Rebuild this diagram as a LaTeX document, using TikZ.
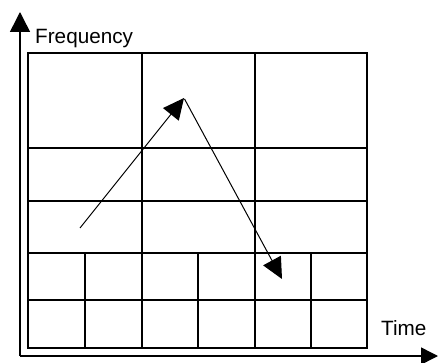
\documentclass[tikz,border=0pt]{standalone}
\usepackage{fontspec}
\setmainfont{Liberation Sans}
\usetikzlibrary{arrows.meta, positioning}

\begin{document}
\begin{tikzpicture}[x=1pt, y=-1pt,
    axis/.style={line width=1.5pt, -{Triangle[length=20pt, width=20pt]}},
    cell/.style={line width=1.3pt},
    trend/.style={line width=1pt, -{Triangle[length=21pt, width=20pt]}},
    lbl/.style={inner sep=0pt, anchor=base west, font=\fontsize{20.7}{24}\selectfont}]
    \useasboundingbox (0,0) rectangle (438,363);

    % axes
    \coordinate (o) at (20,356);
    \coordinate (ytip) at (20,12);
    \coordinate (xtip) at (438,356);
    \draw[axis] (o) -- (ytip);
    \draw[axis, -{Triangle[length=17pt, width=17pt]}] (o) -- (xtip);

    \node[lbl] (freq) at (35,44) {Frequency};
    \node[lbl] (time) at (381,335) {Time};

    % tiling of the plane
    \draw[cell] (28,53) rectangle (367,348);
    \foreach \y in {148,201,253,300}
        \draw[cell] (28,\y) -- (367,\y);
    \foreach \x in {142,255}
        \draw[cell] (\x,53) -- (\x,348);
    \foreach \x in {85,198,311}
        \draw[cell] (\x,253) -- (\x,348);

    % path through the cells
    \coordinate (start) at (80,228);
    \coordinate (peak) at (184,98);
    \coordinate (stop) at (282,279);
    \draw[trend] (start) -- (peak);
    \draw[trend, shorten <=1pt] (peak) -- (stop);
\end{tikzpicture}
\end{document}
